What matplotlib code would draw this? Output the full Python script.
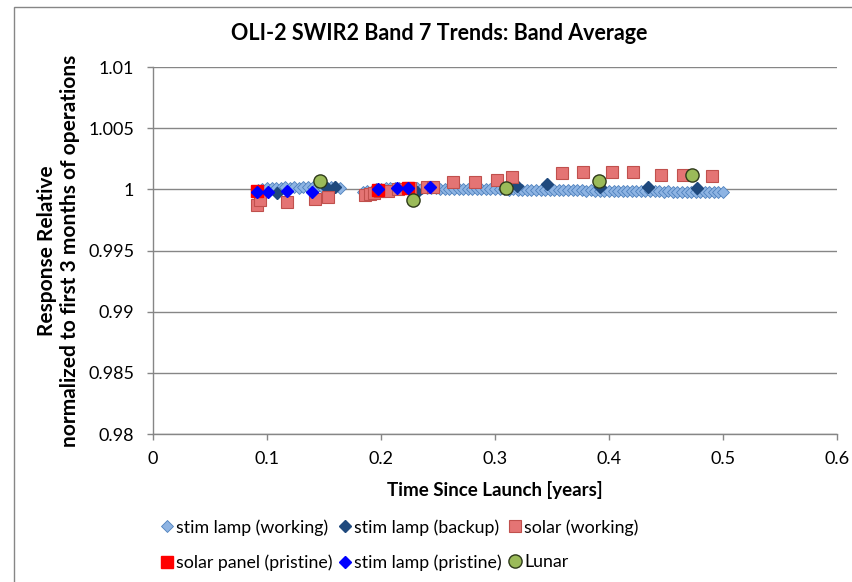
import matplotlib
matplotlib.use("Agg")
import matplotlib.pyplot as plt
from matplotlib.patches import Rectangle
from matplotlib.ticker import FuncFormatter

plt.rcParams['font.family'] = ['Lato', 'DejaVu Sans']

# stim lamp (working) - dense daily series
stim_work_x = [0.092, 0.096, 0.100, 0.104, 0.108, 0.112, 0.116, 0.120, 0.124, 0.128,
               0.132, 0.136, 0.140, 0.144, 0.148, 0.152, 0.156, 0.160, 0.164,
               0.184, 0.188, 0.192, 0.196, 0.200, 0.204, 0.208, 0.212, 0.216, 0.220,
               0.224, 0.228, 0.232, 0.236, 0.240, 0.244, 0.248, 0.252, 0.256, 0.260,
               0.264, 0.268, 0.272, 0.276, 0.280, 0.284, 0.288, 0.292, 0.296, 0.300,
               0.304, 0.308, 0.312, 0.316, 0.320, 0.324, 0.328, 0.332, 0.336, 0.340,
               0.344, 0.348, 0.352, 0.356, 0.360, 0.364, 0.368, 0.372, 0.376, 0.380,
               0.384, 0.388, 0.392, 0.396, 0.400, 0.404, 0.408, 0.412, 0.416, 0.420,
               0.424, 0.428, 0.432, 0.436, 0.440, 0.444, 0.448, 0.452, 0.456, 0.460,
               0.464, 0.468, 0.472, 0.476, 0.480, 0.484, 0.488, 0.492, 0.496, 0.500]
stim_work_y = [0.99995, 1.00005, 1.0001, 1.0001, 1.00012, 1.0001, 1.00015, 1.00012, 1.00015, 1.0001,
               1.00015, 1.00018, 1.00015, 1.0002, 1.00015, 1.00018, 1.0002, 1.00015, 1.0001,
               0.9998, 0.99985, 0.9999, 1.0, 1.00005, 1.0001, 1.0001, 1.00012, 1.0001, 1.00012,
               1.0001, 1.00012, 1.0001, 1.0001, 1.00008, 1.0001, 1.00008, 1.00005, 1.00006, 1.00005,
               1.00004, 1.00005, 1.00003, 1.00004, 1.00002, 1.00003, 1.00002, 1.0, 1.00001, 1.0,
               0.99999, 1.0, 0.99998, 0.99999, 0.99997, 0.99998, 0.99996, 0.99997, 0.99995, 0.99996,
               0.99995, 0.99994, 0.99995, 0.99993, 0.99994, 0.99992, 0.99993, 0.99991, 0.99992, 0.9999,
               0.99991, 0.9999, 0.99989, 0.9999, 0.99988, 0.99989, 0.99987, 0.99988, 0.99986, 0.99987,
               0.99985, 0.99986, 0.99984, 0.99985, 0.99983, 0.99984, 0.99982, 0.99983, 0.99981, 0.99982,
               0.9998, 0.99981, 0.9998, 0.99979, 0.9998, 0.99978, 0.99979, 0.99977, 0.99978, 0.99976]

stim_backup_x = [0.109, 0.153, 0.160, 0.232, 0.319, 0.346, 0.392, 0.434, 0.477]
stim_backup_y = [0.99967, 1.0001, 1.00015, 0.9998, 1.00025, 1.0004, 1.0002, 1.0002, 1.0001]

solar_work_x = [0.091, 0.094, 0.1175, 0.142, 0.1535, 0.186, 0.190, 0.194, 0.199, 0.206,
                0.215, 0.225, 0.240, 0.246, 0.263, 0.2825, 0.302, 0.315, 0.359, 0.377,
                0.403, 0.421, 0.446, 0.465, 0.490]
solar_work_y = [0.9987, 0.9991, 0.9990, 0.99925, 0.9994, 0.99955, 0.9996, 0.9997, 0.99985, 0.9999,
                1.0, 1.0001, 1.00015, 1.0002, 1.0006, 1.0006, 1.0008, 1.001, 1.0013, 1.0014,
                1.0014, 1.0014, 1.0012, 1.0012, 1.0011]

solar_pristine_x = [0.091, 0.197, 0.224]
solar_pristine_y = [0.9999, 0.99995, 1.0001]

stim_pristine_x = [0.091, 0.101, 0.1175, 0.1395, 0.197, 0.214, 0.224, 0.243]
stim_pristine_y = [0.99975, 0.9998, 0.9999, 0.9998, 1.0, 1.0001, 1.0001, 1.0002]

lunar_x = [0.1465, 0.228, 0.310, 0.391, 0.473]
lunar_y = [1.00065, 0.9991, 1.0001, 1.00065, 1.0012]

grey = '#868686'

fig = plt.figure(figsize=(8.52, 5.82), dpi=100)
ax = fig.add_axes([153 / 852, 1 - 434 / 582, 684 / 852, 367 / 582])

h1, = ax.plot(stim_work_x, stim_work_y, ls='none', marker='D', ms=6.5,
              mfc='#8EB4E3', mec='#4F81BD', mew=0.6, label='stim lamp (working)', zorder=3)
h2, = ax.plot(stim_backup_x, stim_backup_y, ls='none', marker='D', ms=6.5,
              mfc='#1F497D', mec='#1F497D', label='stim lamp (backup)', zorder=4)
h3, = ax.plot(solar_work_x, solar_work_y, ls='none', marker='s', ms=8.5,
              mfc='#E47474', mec='#C0504D', mew=0.8, label='solar (working)', zorder=5)
h4, = ax.plot(solar_pristine_x, solar_pristine_y, ls='none', marker='s', ms=9,
              mfc='#FF0000', mec='#FF0000', label='solar panel (pristine)', zorder=6)
h5, = ax.plot(stim_pristine_x, stim_pristine_y, ls='none', marker='D', ms=6,
              mfc='#0000FF', mec='#0000FF', label='stim lamp (pristine)', zorder=7)
h6, = ax.plot(lunar_x, lunar_y, ls='none', marker='o', ms=9.5,
              mfc='#9BBB59', mec='#2E3A1A', mew=1.0, label='Lunar', zorder=8)

ax.set_xlim(0, 0.6)
ax.set_ylim(0.98, 1.01)
ax.set_xticks([0, 0.1, 0.2, 0.3, 0.4, 0.5, 0.6])
ax.set_yticks([0.98, 0.985, 0.99, 0.995, 1.0, 1.005, 1.01])
fmt = FuncFormatter(lambda v, p: '%g' % round(v, 4))
ax.xaxis.set_major_formatter(fmt)
ax.yaxis.set_major_formatter(fmt)

ax.grid(axis='y', color=grey, lw=1.0)
ax.set_axisbelow(True)
for s in ['top', 'right']:
    ax.spines[s].set_visible(False)
for s in ['left', 'bottom']:
    ax.spines[s].set_color(grey)
    ax.spines[s].set_linewidth(1.0)
ax.tick_params(axis='both', color=grey, length=4.5, width=1.0, labelsize=13, labelcolor='black')
ax.tick_params(axis='x', pad=8)
ax.tick_params(axis='y', pad=9)

fig.text(439 / 852, 1 - 33 / 582, 'OLI-2 SWIR2 Band 7 Trends: Band Average',
         fontsize=15.5, fontweight='bold', ha='center', va='center')
ax.set_xlabel('Time Since Launch [years]', fontsize=13.5, fontweight='bold', va='center')
ax.xaxis.set_label_coords(0.5, -0.153)
ax.set_ylabel('Response Relative\nnormalized to first 3 months of operations',
              fontsize=15, fontweight='bold', va='center', linespacing=1.2)
ax.yaxis.set_label_coords(-0.138, 0.5)

handles = [h1, h4, h2, h5, h3, h6]
fig.legend(handles=handles, labels=[h.get_label() for h in handles], ncol=3,
           loc='center', bbox_to_anchor=(0.4695, 0.0636), frameon=False, fontsize=12.8,
           handlelength=0.6, handletextpad=0.2, columnspacing=0.45, labelspacing=1.05)

# outer chart border (only left and top edges visible in the crop)
fig.add_artist(Rectangle((14 / 852, -0.1), 1.2, 1 - 7 / 582 + 0.1, transform=fig.transFigure,
                         fill=False, edgecolor=grey, lw=1.0, clip_on=False))

fig.savefig('out.png', dpi=100)
